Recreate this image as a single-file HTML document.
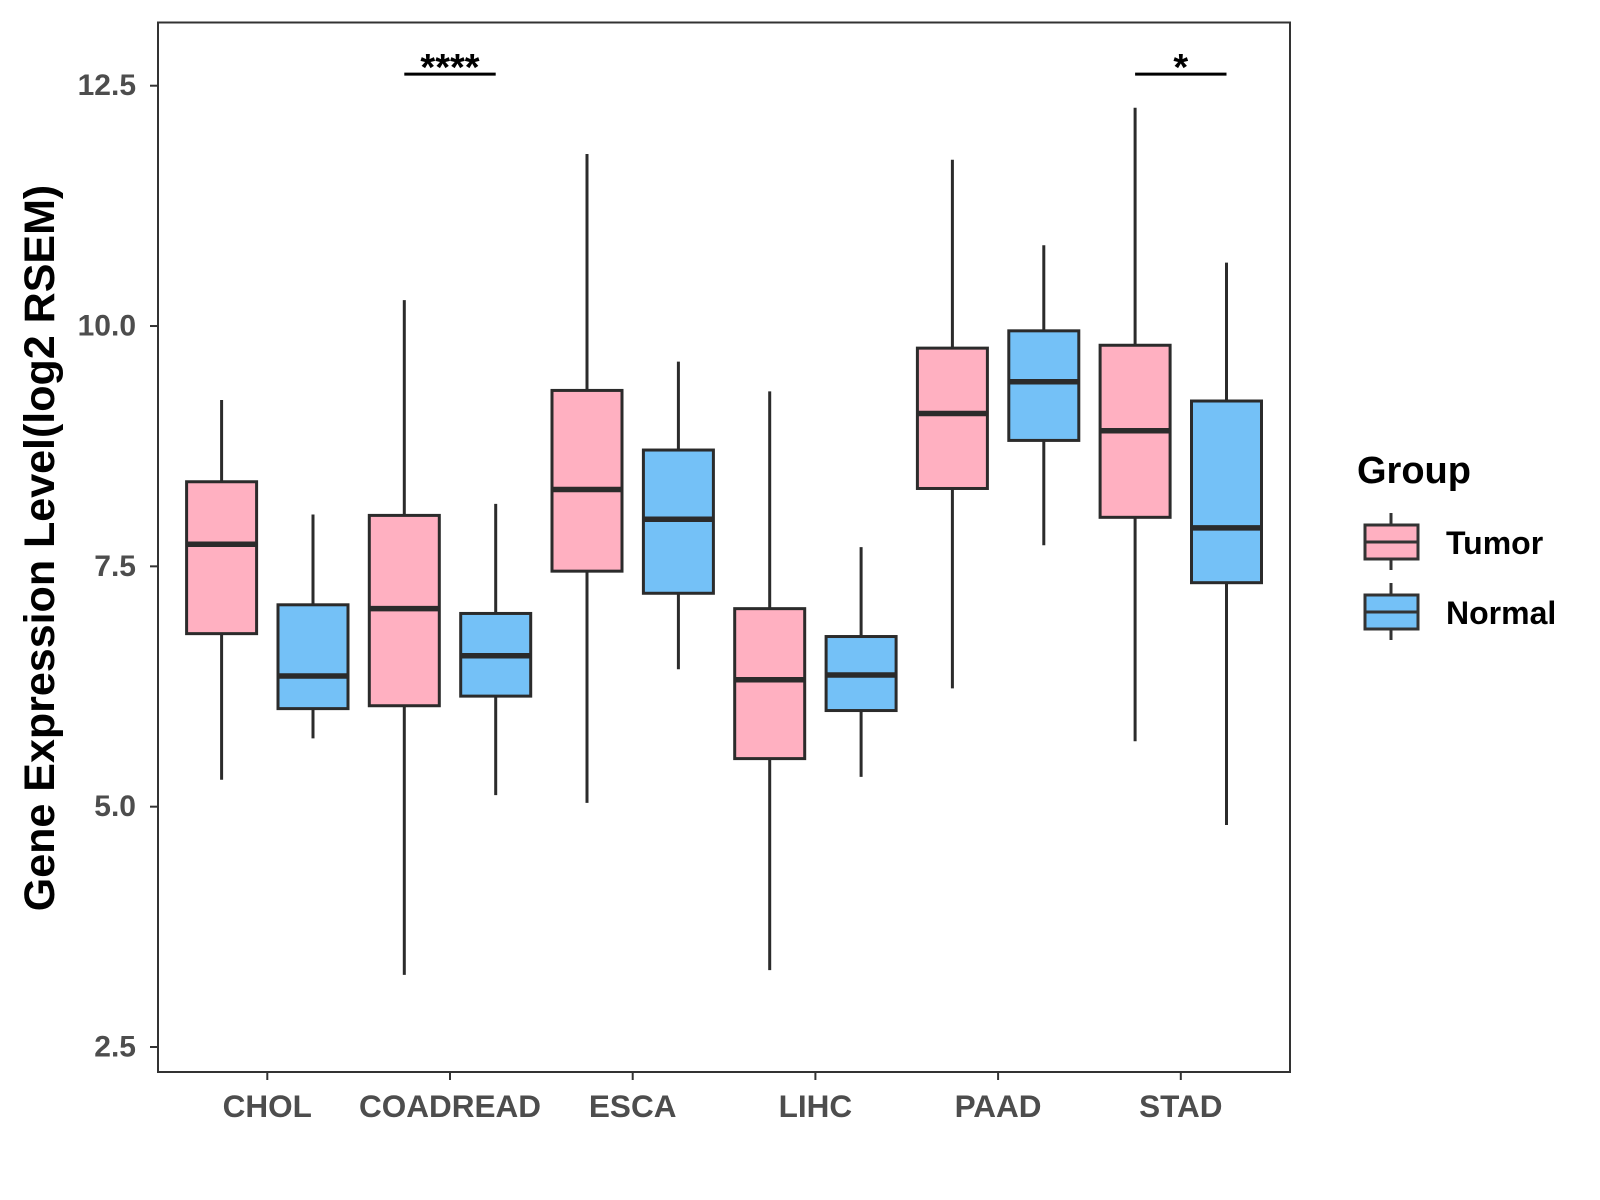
<!DOCTYPE html>
<html><head><meta charset="utf-8"><style>
html,body{margin:0;padding:0;background:#fff;}
svg{display:block;font-family:"Liberation Sans",Arial,sans-serif;}
</style></head><body>
<svg id="chart" width="1600" height="1200" viewBox="0 0 1600 1200">
<rect x="158" y="22.5" width="1132" height="1049.5" fill="#fff" stroke="#333" stroke-width="2"/>
<g id="yaxis"></g>
<g id="xaxis"></g>
<g id="boxes"></g>
<g id="sig"></g>
<text x="40" y="548" transform="rotate(-90 40 548)" text-anchor="middle" dominant-baseline="central" font-size="43" font-weight="bold" fill="#000">Gene Expression Level(log2 RSEM)</text>
<g>
<text x="1357" y="483" font-size="38" font-weight="bold" fill="#000">Group</text>
<g>
<line x1="1391" y1="513" x2="1391" y2="570" stroke="#333" stroke-width="3"/>
<rect x="1365" y="525" width="53" height="34" fill="#FFB0C1" stroke="#333" stroke-width="3"/>
<line x1="1365" y1="542" x2="1418" y2="542" stroke="#333" stroke-width="3"/>
<text x="1446" y="554" font-size="32" font-weight="bold" fill="#000">Tumor</text>
</g>
<g>
<line x1="1391" y1="583" x2="1391" y2="640" stroke="#333" stroke-width="3"/>
<rect x="1365" y="595" width="53" height="34" fill="#74C1F7" stroke="#333" stroke-width="3"/>
<line x1="1365" y1="612" x2="1418" y2="612" stroke="#333" stroke-width="3"/>
<text x="1446" y="624" font-size="32" font-weight="bold" fill="#000">Normal</text>
</g>
</g>
</svg>
<script>
const categories=["CHOL","COADREAD","ESCA","LIHC","PAAD","STAD"];
const yTicks=[2.5,5.0,7.5,10.0,12.5];
const yTickLabels=["2.5","5.0","7.5","10.0","12.5"];
// [whiskerLow, q1, median, q3, whiskerHigh]
const tumorStats=[[5.28,6.80,7.73,8.38,9.23],[3.25,6.05,7.06,8.03,10.27],[5.04,7.45,8.30,9.33,11.79],[3.30,5.50,6.32,7.06,9.32],[6.23,8.31,9.09,9.77,11.73],[5.68,8.01,8.91,9.80,12.27]];
const normalStats=[[5.71,6.02,6.36,7.10,8.04],[5.12,6.15,6.57,7.01,8.15],[6.43,7.22,7.99,8.71,9.63],[5.31,6.00,6.37,6.77,7.70],[7.72,8.81,9.42,9.95,10.84],[4.81,7.33,7.90,9.22,10.66]];
const sigLabels=[{cat:"COADREAD",label:"****",y:12.62},{cat:"STAD",label:"*",y:12.62}];
const NS="http://www.w3.org/2000/svg";
function yS(v){return 1047-(v-2.5)*96.13;}
function xS(i){return 267.3+i*182.7;}
function mk(tag,attrs,parent){const e=document.createElementNS(NS,tag);for(const k in attrs)e.setAttribute(k,attrs[k]);parent.appendChild(e);return e;}
const ya=document.getElementById('yaxis'),xa=document.getElementById('xaxis'),bx=document.getElementById('boxes'),sg=document.getElementById('sig');
yTicks.forEach((v,i)=>{
 const l=mk('line',{x1:150,x2:158,y1:yS(v),y2:yS(v),stroke:'#333','stroke-width':2},ya);
 
 
 const t=mk('text',{x:136,y:yS(v),'text-anchor':'end','dominant-baseline':'central','font-size':30,'font-weight':'bold',fill:'#4d4d4d'},ya);
 t.textContent=yTickLabels[i];
 
 
});
categories.forEach((c,i)=>{
 const l=mk('line',{x1:xS(i),x2:xS(i),y1:1072,y2:1080,stroke:'#333','stroke-width':2},xa);
 
 
 const t=mk('text',{x:xS(i),y:1106,'text-anchor':'middle','dominant-baseline':'central','font-size':31.5,'font-weight':'bold',fill:'#4d4d4d'},xa);
 t.textContent=c;
 
 
});
function drawBox(s,cx,fill,name){
 const g=mk('g',{},bx);
 
 
 mk('line',{x1:cx,x2:cx,y1:yS(s[0]),y2:yS(s[4]),stroke:'#2b2b2b','stroke-width':3},g);
 mk('rect',{x:cx-35,width:70,y:yS(s[3]),height:yS(s[1])-yS(s[3]),fill:fill,stroke:'#2b2b2b','stroke-width':3},g);
 mk('line',{x1:cx-35,x2:cx+35,y1:yS(s[2]),y2:yS(s[2]),stroke:'#2b2b2b','stroke-width':5.5},g);
}
categories.forEach((c,i)=>{
 drawBox(tumorStats[i],xS(i)-45.7,'#FFB0C1','box-tumor-'+c.toLowerCase());
 drawBox(normalStats[i],xS(i)+45.7,'#74C1F7','box-normal-'+c.toLowerCase());
});
sigLabels.forEach(s=>{
 const i=categories.indexOf(s.cat);
 const g=mk('g',{},sg);
 
 
 mk('line',{x1:xS(i)-45.7,x2:xS(i)+45.7,y1:yS(s.y),y2:yS(s.y),stroke:'#000','stroke-width':3},g);
 const t=mk('text',{x:xS(i),y:yS(s.y)+6,'text-anchor':'middle','font-size':38,'font-weight':'bold',fill:'#000'},g);
 t.textContent=s.label;
});
</script>
</body></html>
